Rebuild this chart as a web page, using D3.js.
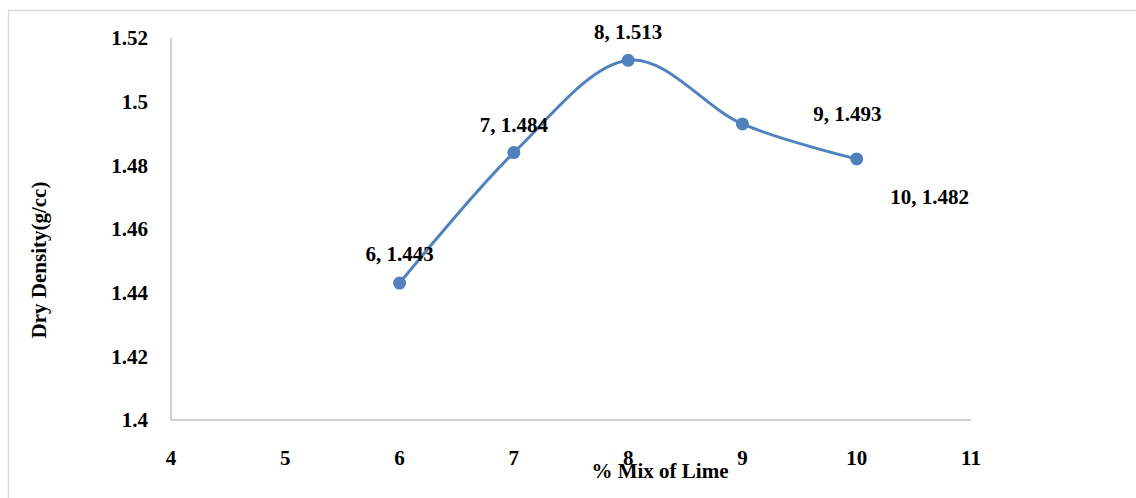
<!DOCTYPE html>
<html><head><meta charset="utf-8">
<script src="https://cdn.jsdelivr.net/npm/d3@7"></script>
<style>
html,body{margin:0;padding:0;background:#fff;}
svg text{font-family:"Liberation Serif","Times New Roman",serif;font-weight:bold;fill:#000;}
</style></head>
<body>
<svg id="chart" width="1136" height="498"></svg>
<script>
const limePct = [6, 7, 8, 9, 10];
const dryDensity = [1.443, 1.484, 1.513, 1.493, 1.482];
const xTicks = [4, 5, 6, 7, 8, 9, 10, 11];
const yTicks = [1.4, 1.42, 1.44, 1.46, 1.48, 1.5, 1.52];
const pointLabels = ["6, 1.443", "7, 1.484", "8, 1.513", "9, 1.493", "10, 1.482"];
const labelOffsets = [[0, -29], [0, -28], [0, -29], [105, -10], [73, 38]];

const FS = "21px";
const svg = d3.select("#chart");
svg.append("rect").attr("x", 8.5).attr("y", 10.5).attr("width", 1300).attr("height", 700)
  .attr("fill", "#fff").attr("stroke", "#d9d9d9").attr("stroke-width", 1.5);

const x = d3.scaleLinear().domain([4, 11]).range([171, 971]);
const y = d3.scaleLinear().domain([1.4, 1.52]).range([420, 38]);

svg.append("line").attr("x1", x(4)).attr("x2", x(4)).attr("y1", y(1.52)).attr("y2", y(1.4))
  .attr("stroke", "#bfbfbf").attr("stroke-width", 1.5);
svg.append("line").attr("x1", x(4)).attr("x2", x(11)).attr("y1", y(1.4)).attr("y2", y(1.4))
  .attr("stroke", "#bfbfbf").attr("stroke-width", 1.5);

svg.selectAll(".ytl").data(yTicks).enter().append("text")
  .attr("x", 148).attr("y", d => y(d)).attr("dy", "0.35em")
  .attr("text-anchor", "end").style("font-size", FS)
  .text(d => d3.format("")(+d.toFixed(2)));

svg.selectAll(".xtl").data(xTicks).enter().append("text")
  .attr("x", d => x(d)).attr("y", 465)
  .attr("text-anchor", "middle").style("font-size", FS)
  .text(d => d);

svg.append("text").attr("x", 660).attr("y", 478).attr("text-anchor", "middle")
  .style("font-size", FS).text("% Mix of Lime");
svg.append("text").attr("transform", "translate(46,260) rotate(-90)").attr("text-anchor", "middle")
  .style("font-size", FS).text("Dry Density(g/cc)");

const data = limePct.map((v, i) => ({x: v, y: dryDensity[i], label: pointLabels[i], off: labelOffsets[i]}));

const line = d3.line().x(d => x(d.x)).y(d => y(d.y)).curve(d3.curveCardinal.tension(0));
svg.append("path").datum(data).attr("d", line).attr("fill", "none")
  .attr("stroke", "#4f81bd").attr("stroke-width", 3).attr("stroke-linecap", "round");

svg.selectAll(".pt").data(data).enter().append("circle")
  .attr("cx", d => x(d.x)).attr("cy", d => y(d.y)).attr("r", 6.5).attr("fill", "#4f81bd");

svg.selectAll(".lbl").data(data).enter().append("text")
  .attr("x", d => x(d.x) + d.off[0]).attr("y", d => y(d.y) + d.off[1]).attr("dy", "0.35em")
  .attr("text-anchor", "middle").style("font-size", FS).text(d => d.label);
</script>
</body></html>
